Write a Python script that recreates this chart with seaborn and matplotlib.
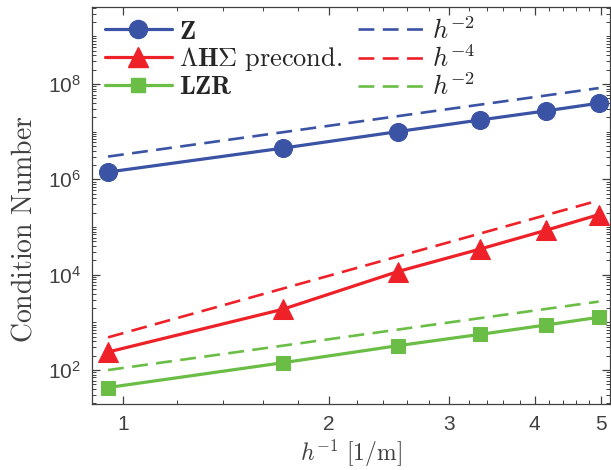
import numpy as np
import pandas as pd
import matplotlib
matplotlib.use("Agg")
import matplotlib.pyplot as plt
import matplotlib.ticker as mticker
from matplotlib.lines import Line2D
import seaborn as sns

# ---- data ----
h_inv = [0.95, 1.71, 2.52, 3.33, 4.15, 4.96]
cond_Z = [1.42e6, 4.5e6, 1.0e7, 1.76e7, 2.72e7, 3.94e7]
cond_LHS = [239, 1875, 1.16e4, 3.46e4, 8.5e4, 1.81e5]
cond_LZR = [43, 142, 324, 561, 879, 1277]
ref_Z = [3.0e6, 9.7e6, 2.11e7, 3.69e7, 5.72e7, 8.18e7]
ref_LHS = [485, 5.09e3, 2.40e4, 7.32e4, 1.77e5, 3.6e5]
ref_LZR = [100, 324, 704, 1229, 1908, 2726]

series_labels = [r"$\mathbf{Z}$", r"$\mathbf{\Lambda H \Sigma}$ $\mathrm{precond.}$", r"$\mathbf{LZR}$"]
ref_labels = [r"$h^{-2}$", r"$h^{-4}$", r"$h^{-2}$"]
x_ticks = [1, 2, 3, 4, 5]
y_ticks = [1e2, 1e4, 1e6, 1e8]

sns.set_theme(style="ticks")
plt.rcParams["font.family"] = ["Liberation Sans", "DejaVu Sans"]
plt.rcParams["mathtext.fontset"] = "cm"

colors = ["#3A53A4", "#EE2028", "#6ABD45"]
markers = ["o", "^", "s"]
msizes = [13, 15, 10]

fig = plt.figure(figsize=(6.11, 4.70), dpi=100)
ax = fig.add_axes([0.1506, 0.1404, 0.998 - 0.1506, 0.985 - 0.1404])

gray = "#404040"
solid_handles = []
dash_handles = []
for vals, refs, c, m, ms in zip([cond_Z, cond_LHS, cond_LZR], [ref_Z, ref_LHS, ref_LZR], colors, markers, msizes):
    df = pd.DataFrame({"x": h_inv, "y": vals})
    dr = pd.DataFrame({"x": h_inv, "y": refs})
    sns.lineplot(data=dr, x="x", y="y", ax=ax, color=c, lw=1.9, dashes=False,
                 linestyle=(0, (6, 3.2)), legend=False)
    sns.lineplot(data=df, x="x", y="y", ax=ax, color=c, lw=2.3, marker=m,
                 markersize=ms, markeredgecolor=c, legend=False)
    solid_handles.append(Line2D([], [], color=c, lw=2.3, marker=m, markersize=ms, markeredgecolor=c))
    dash_handles.append(Line2D([], [], color=c, lw=1.9, linestyle=(0, (6, 3.2))))

ax.set_xscale("log")
ax.set_yscale("log")
ax.set_xlim(0.9, 5.15)
ax.set_ylim(19.4, 4.1e9)

ax.xaxis.set_major_locator(mticker.FixedLocator(x_ticks))
ax.xaxis.set_major_formatter(mticker.FixedFormatter([str(t) for t in x_ticks]))
ax.xaxis.set_minor_locator(mticker.FixedLocator(np.arange(0.8, 5.3, 0.2)))
ax.xaxis.set_minor_formatter(mticker.NullFormatter())
ax.yaxis.set_major_locator(mticker.FixedLocator(y_ticks))
ax.yaxis.set_major_formatter(mticker.LogFormatterSciNotation())
ax.yaxis.set_minor_locator(mticker.LogLocator(base=10, subs=np.arange(1, 10), numticks=40))
ax.yaxis.set_minor_formatter(mticker.NullFormatter())

ax.tick_params(which="both", direction="in", top=True, right=True, colors=gray, labelcolor=gray)
ax.tick_params(which="major", length=6, width=0.9, labelsize=15, pad=8)
ax.tick_params(which="minor", length=3, width=0.7)
for s in ax.spines.values():
    s.set_color(gray)
    s.set_linewidth(0.9)
    s.set_visible(True)

ax.set_xlabel(r"$h^{-1}\ [1/\mathrm{m}]$", fontsize=17, color=gray, labelpad=3)
ax.set_ylabel(r"$\mathrm{Condition\ Number}$", fontsize=20, color=gray)
ax.yaxis.set_label_coords(-0.105, 0.44)

leg = ax.legend(solid_handles + dash_handles, series_labels + ref_labels, ncol=2,
                loc="upper left", frameon=False, fontsize=19, handlelength=2.54,
                handletextpad=0.27, columnspacing=0.57, labelspacing=0.06,
                borderaxespad=0.0, borderpad=0.0, bbox_to_anchor=(0.025, 0.975))

fig.savefig("out.png", dpi=100)
